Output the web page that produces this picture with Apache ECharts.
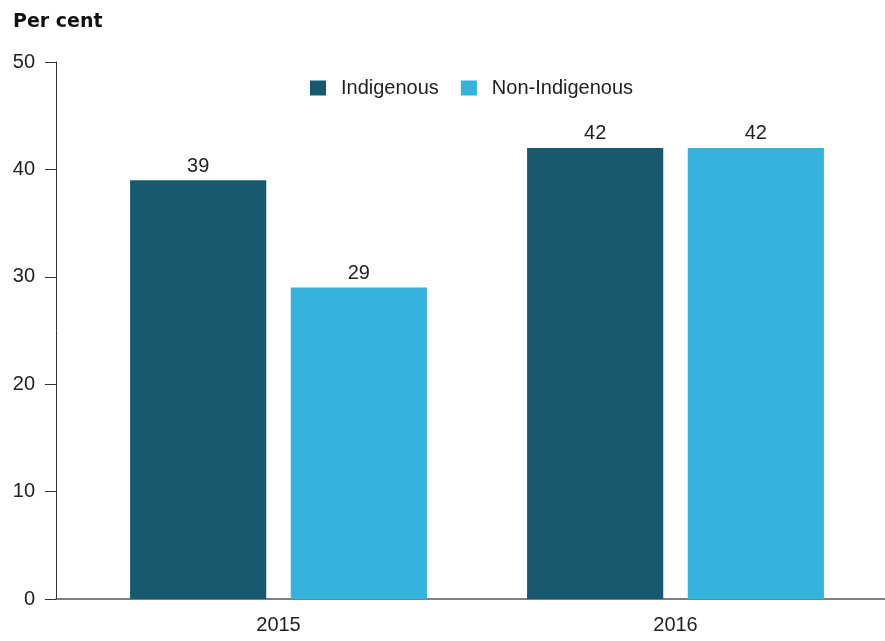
<!DOCTYPE html>
<html><head><meta charset="utf-8">
<script src="https://cdn.jsdelivr.net/npm/echarts@6/dist/echarts.min.js"></script>
<style>html,body{margin:0;padding:0;background:#fff}#c{width:885px;height:641px}</style>
</head><body><div id="c"></div>
<script>
const categories = ['2015', '2016'];
const indigenous = [39, 42];
const nonIndigenous = [29, 42];
const yTicks = [0, 10, 20, 30, 40, 50];

const chart = echarts.init(document.getElementById('c'));
const font = 'Liberation Sans, Arial, sans-serif';
chart.setOption({
  animation: false,
  title: {
    text: 'Per cent', left: 8, top: 8,
    textStyle: { fontFamily: 'DejaVu Sans', fontSize: 19, fontWeight: 'bold', color: '#111' }
  },
  legend: {
    top: 73, left: 305, itemWidth: 16, itemHeight: 15, itemGap: 22,
    icon: 'rect',
    textStyle: { fontFamily: font, fontSize: 20, color: '#222', padding: [0, 0, 0, 10] },
    data: ['Indigenous', 'Non-Indigenous']
  },
  grid: [
    { left: 80, right: 11, top: 62, bottom: 42 },
    { left: 56, right: 0, top: 62, bottom: 42 }
  ],
  xAxis: [
    {
      type: 'category', data: categories, gridIndex: 0,
      axisLine: { show: false }, axisTick: { show: false },
      axisLabel: { fontFamily: font, fontSize: 20, color: '#222', margin: 16 }
    },
    {
      type: 'value', gridIndex: 1, min: 0, max: 1,
      axisLine: { show: true, lineStyle: { color: '#555', width: 1.5 } },
      axisTick: { show: false }, axisLabel: { show: false }, splitLine: { show: false }
    }
  ],
  yAxis: [
    {
      type: 'value', gridIndex: 0, min: yTicks[0], max: yTicks[yTicks.length - 1], interval: 10,
      offset: 24,
      axisLine: { show: true, lineStyle: { color: '#333' } },
      axisTick: { show: true, length: 11, lineStyle: { color: '#333' } },
      axisLabel: { fontFamily: font, fontSize: 20, color: '#222', margin: 21 },
      splitLine: { show: false }
    },
    { type: 'value', gridIndex: 1, show: false, min: 0, max: 1 }
  ],
  series: [
    {
      name: 'Indigenous', type: 'bar', data: indigenous, barWidth: '34.3%', barGap: '18%',
      itemStyle: { color: '#175a70' },
      label: { show: true, position: 'top', distance: 4, fontFamily: font, fontSize: 20, color: '#222' }
    },
    {
      name: 'Non-Indigenous', type: 'bar', data: nonIndigenous, barWidth: '34.3%', barGap: '18%',
      itemStyle: { color: '#35b3dc' },
      label: { show: true, position: 'top', distance: 4, fontFamily: font, fontSize: 20, color: '#222' }
    }
  ]
});
</script></body></html>
